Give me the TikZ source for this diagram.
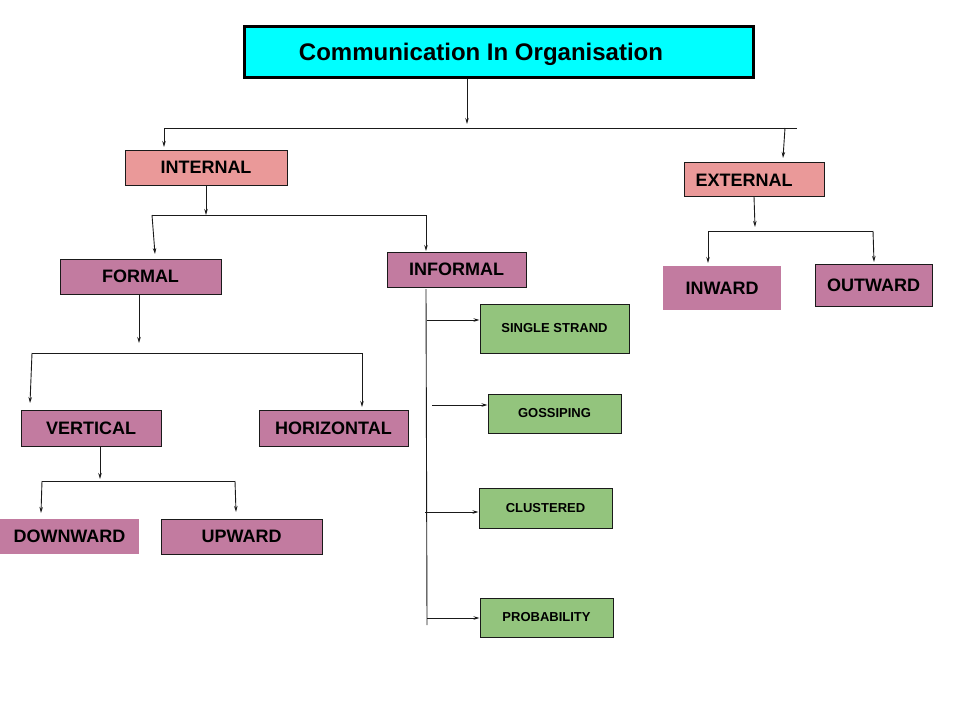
\documentclass[tikz,border=0pt]{standalone}
\usepackage{fontspec}
\setmainfont{Liberation Sans}
\usetikzlibrary{arrows.meta}
\definecolor{cyanfill}{HTML}{00FFFF}
\definecolor{salmon}{HTML}{EA9999}
\definecolor{mauve}{HTML}{C27BA0}
\definecolor{leaf}{HTML}{93C47D}
\definecolor{ink}{HTML}{1A1A1A}
\tikzset{
  boxbase/.style={rectangle, inner sep=0pt, text=black, font=\bfseries\fontsize{18}{20}\selectfont},
  titlebox/.style={boxbase, fill=cyanfill, draw=black, line width=3pt, font=\bfseries\fontsize{24}{26}\selectfont},
  redbox/.style={boxbase, fill=salmon, draw=ink, line width=1pt},
  purplebox/.style={boxbase, fill=mauve, draw=ink, line width=1pt},
  purplenb/.style={boxbase, fill=mauve},
  greenbox/.style={boxbase, fill=leaf, draw=ink, line width=1pt, font=\bfseries\fontsize{13}{15}\selectfont},
  conn/.style={draw=ink, line width=0.9pt},
  arr/.style={conn, -{Stealth[length=6pt,width=3.5pt]}},
  lbl/.style={inner sep=0pt, text=black, font=\bfseries\fontsize{18}{20}\selectfont}
}
\begin{document}
\begin{tikzpicture}[x=1pt,y=-1pt]
\useasboundingbox (0,0) rectangle (960,720);
% title
\node[titlebox, minimum width=509, minimum height=51] (title) at (498.5,51.5) {};
\node[lbl, font=\bfseries\fontsize{24}{26}\selectfont, text depth=0pt] (titletext) at (481,52) {Communication In Organisation};
% level 1
\node[redbox, minimum width=162, minimum height=35] (internal) at (206,167.5) {INTERNAL};
\node[redbox, minimum width=140, minimum height=34] (external) at (754,179) {};
\node[lbl] (exttext) at (744,180) {EXTERNAL};
% level 2
\node[purplebox, minimum width=161, minimum height=35] (formal) at (140.5,276.5) {FORMAL};
\node[purplebox, minimum width=139, minimum height=35] (informal) at (456.5,269.5) {INFORMAL};
\node[purplenb, minimum width=118, minimum height=44] (inward) at (722,288) {INWARD};
\node[purplebox, minimum width=117, minimum height=42] (outward) at (873.5,285) {OUTWARD};
% level 3
\node[purplebox, minimum width=140, minimum height=36] (vertical) at (91,428) {VERTICAL};
\node[purplebox, minimum width=149, minimum height=36] (horizontal) at (333.5,428) {HORIZONTAL};
\node[purplenb, minimum width=139, minimum height=35] (downward) at (69.5,536.5) {DOWNWARD};
\node[purplebox, minimum width=161, minimum height=35] (upward) at (241.5,536.5) {UPWARD};
% informal kinds
\node[greenbox, minimum width=149, minimum height=49] (single) at (554.5,328.5) {SINGLE STRAND};
\node[greenbox, minimum width=133, minimum height=39] (gossip) at (554.5,413.5) {GOSSIPING};
\node[greenbox, minimum width=133, minimum height=40] (cluster) at (545.5,508) {CLUSTERED};
\node[greenbox, minimum width=133, minimum height=39] (prob) at (546.5,617.5) {PROBABILITY};

% coordinates
\coordinate (t1) at (467,124);
\coordinate (hL) at (164,128);
\coordinate (hR) at (797,128);
\coordinate (hE) at (785,128);
\coordinate (aI) at (164,147);
\coordinate (aE) at (783,158);
\coordinate (i1) at (206,215);
\coordinate (iL) at (152,215);
\coordinate (iR) at (426,215);
\coordinate (aF) at (155,254);
\coordinate (aIn) at (426,251);
\coordinate (f1) at (139,343);
\coordinate (fL) at (32,353);
\coordinate (fR) at (362,353);
\coordinate (aV) at (30,403);
\coordinate (aH) at (362,407);
\coordinate (v1) at (100,479);
\coordinate (vL) at (42,481);
\coordinate (vR) at (235,481);
\coordinate (aD) at (41,513);
\coordinate (aU) at (236,512);
\coordinate (e1) at (755,227);
\coordinate (eL) at (708,231);
\coordinate (eR) at (873,231);
\coordinate (aW) at (708,263);
\coordinate (aO) at (874,262);
\coordinate (sTop) at (426,289);
\coordinate (sBot) at (427,625);
\coordinate (b1) at (427,320);
\coordinate (b2) at (432,405);
\coordinate (b3) at (425,512);
\coordinate (b4) at (427,618);

% connectors
\draw[arr] (title.south -| t1) -- (t1);
\draw[conn] (hL) -- (hR);
\draw[arr] (hL) -- (aI);
\draw[arr] (hE) -- (aE);
\draw[arr] (internal.south) -- (i1);
\draw[conn] (iL) -- (iR);
\draw[arr] (iL) -- (aF);
\draw[arr] (iR) -- (aIn);
\draw[arr] (formal.south -| f1) -- (f1);
\draw[conn] (fL) -- (fR);
\draw[arr] (fL) -- (aV);
\draw[arr] (fR) -- (aH);
\draw[arr] (vertical.south -| v1) -- (v1);
\draw[conn] (vL) -- (vR);
\draw[arr] (vL) -- (aD);
\draw[arr] (vR) -- (aU);
\draw[arr] (external.south) -- (e1);
\draw[conn] (eL) -- (eR);
\draw[arr] (eL) -- (aW);
\draw[arr] (eR) -- (aO);
\draw[conn] (sTop) -- (sBot);
\draw[arr] (b1) -- (single.west |- b1);
\draw[arr] (b2) -- (gossip.west |- b2);
\draw[arr] (b3) -- (cluster.west |- b3);
\draw[arr] (b4) -- (prob.west |- b4);
\end{tikzpicture}
\end{document}
